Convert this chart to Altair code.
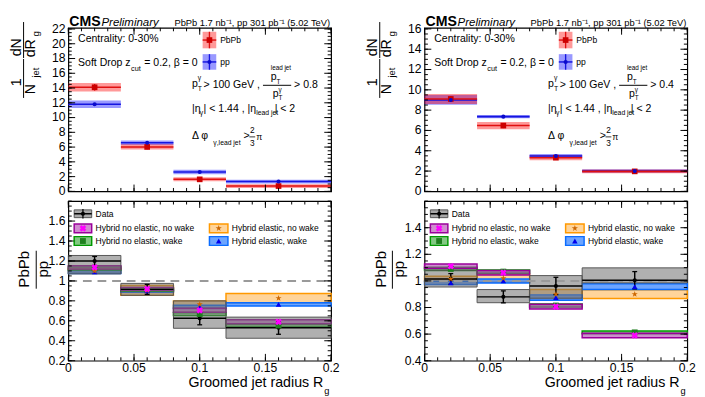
import altair as alt
import pandas as pd

FONT = "Liberation Sans"

# ---------------- binning of groomed jet radius R_g ----------------
bin_lo = [0.0, 0.04, 0.08, 0.12]
bin_hi = [0.04, 0.08, 0.12, 0.20]
bin_mid = [0.02, 0.06, 0.10, 0.16]

# ---------------- top panels: 1/N_jet dN/dR_g ----------------
pbpb_08 = [14.1, 6.02, 1.63, 0.72]
pbpb_08_sys = [0.58, 0.36, 0.27, 0.25]
pbpb_08_stat = [0.45, 0.30, 0.20, 0.25]
pp_08 = [11.8, 6.58, 2.62, 1.33]
pp_08_sys = [0.52, 0.30, 0.30, 0.25]
pp_08_stat = [0.12, 0.10, 0.07, 0.05]

pbpb_04 = [9.10, 6.48, 3.32, 1.97]
pbpb_04_sys = [0.50, 0.35, 0.25, 0.18]
pbpb_04_stat = [0.30, 0.25, 0.15, 0.08]
pp_04 = [9.00, 7.36, 3.48, 2.00]
pp_04_sys = [0.48, 0.17, 0.20, 0.17]
pp_04_stat = [0.10, 0.05, 0.05, 0.03]

# ---------------- bottom panels: PbPb / pp ----------------
ratio_08 = [1.20, 0.915, 0.625, 0.53]
ratio_08_lo = [1.07, 0.855, 0.525, 0.425]
ratio_08_hi = [1.255, 0.975, 0.80, 0.637]
ratio_08_stat = [0.045, 0.05, 0.065, 0.065]

ratio_04 = [1.015, 0.88, 0.962, 1.005]
ratio_04_lo = [0.954, 0.836, 0.87, 0.985]
ratio_04_hi = [1.08, 0.935, 1.04, 1.098]
ratio_04_stat = [0.04, 0.045, 0.065, 0.065]

# Hybrid model: central value and band half-width
noel_nowake_08 = [1.135, 0.92, 0.705, 0.59]
noel_nowake_08_w = [0.017, 0.015, 0.02, 0.02]
noel_wake_08 = [1.125, 0.912, 0.668, 0.553]
noel_wake_08_w = [0.015, 0.015, 0.016, 0.016]
el_nowake_08 = [1.10, 0.905, 0.765, 0.827]
el_nowake_08_w = [0.02, 0.05, 0.035, 0.046]
el_wake_08 = [1.09, 0.90, 0.74, 0.765]
el_wake_08_w = [0.015, 0.015, 0.016, 0.016]

noel_nowake_04 = [1.11, 1.062, 0.806, 0.59]
noel_nowake_04_w = [0.017, 0.017, 0.018, 0.017]
noel_wake_04 = [1.09, 1.07, 0.815, 0.613]
noel_wake_04_w = [0.012, 0.012, 0.012, 0.01]
el_nowake_04 = [1.015, 1.02, 0.90, 0.90]
el_nowake_04_w = [0.02, 0.03, 0.035, 0.033]
el_wake_04 = [0.985, 1.0, 0.875, 0.957]
el_wake_04_w = [0.012, 0.015, 0.02, 0.022]

# ---------------- tick values / labels ----------------
x_major = [0, 0.05, 0.1, 0.15, 0.2]
x_minor = [round(0.01 * i, 2) for i in range(21)]
y08_major = [0, 2, 4, 6, 8, 10, 12, 14, 16, 18, 20, 22]
y08_minor = [0.5 * i for i in range(45)]
y04_major = [0, 2, 4, 6, 8, 10, 12, 14, 16]
y04_minor = [0.5 * i for i in range(33)]
r08_major = [0.2, 0.4, 0.6, 0.8, 1, 1.2, 1.4, 1.6]
r08_minor = [round(0.2 + 0.05 * i, 2) for i in range(33)]
r04_major = [0.4, 0.6, 0.8, 1, 1.2, 1.4]
r04_minor = [round(0.4 + 0.05 * i, 2) for i in range(25)]

W = 270
H_TOP = 168
H_BOT = 164
STAR = "M0,-1L0.225,-0.31L0.95,-0.31L0.364,0.118L0.588,0.809L0,0.382L-0.588,0.809L-0.364,0.118L-0.95,-0.31L-0.225,-0.31Z"
ONE = pd.DataFrame({"k": [0]})


def T(s, x, y, size=10.8, align="left", baseline="middle", angle=0,
      weight="normal", style="normal", color="black"):
    return alt.Chart(ONE).mark_text(
        align=align, baseline=baseline, fontSize=size, angle=angle,
        fontWeight=weight, fontStyle=style, font=FONT, color=color
    ).encode(x=alt.value(x), y=alt.value(y), text=alt.value(s))


def R(x1, x2, y1, y2, fill, op=1.0, stroke=None, sw=1.0):
    kw = dict(fill=fill, fillOpacity=op)
    if stroke:
        kw.update(stroke=stroke, strokeWidth=sw)
    return alt.Chart(ONE).mark_rect(**kw).encode(
        x=alt.value(x1), x2=alt.value(x2), y=alt.value(y1), y2=alt.value(y2))


def L(x1, x2, y1, y2, color="black", sw=1.0):
    return alt.Chart(ONE).mark_rule(color=color, strokeWidth=sw).encode(
        x=alt.value(x1), x2=alt.value(x2), y=alt.value(y1), y2=alt.value(y2))


def P(x, y, shape, color, size, angle=0):
    return alt.Chart(ONE).mark_point(
        shape=shape, filled=True, color=color, size=size, opacity=1, angle=angle
    ).encode(x=alt.value(x), y=alt.value(y))


def X(f, xs):
    return alt.X(f, scale=xs, axis=None)


def Y(f, ys):
    return alt.Y(f, scale=ys, axis=None)


def label_layers(xs, ys, H, ymaj, xlab):
    out = []
    ydf = pd.DataFrame({"t": ymaj, "s": ["%g" % v for v in ymaj]})
    out.append(alt.Chart(ydf).mark_text(align="right", baseline="middle", fontSize=12.5, font=FONT,
                                        color="black").encode(
        y=Y("t:Q", ys), x=alt.value(-3), text="s:N"))
    if xlab:
        xdf = pd.DataFrame({"t": x_major, "s": ["%g" % v for v in x_major]})
        out.append(alt.Chart(xdf).mark_text(align="center", baseline="middle", fontSize=12.5, font=FONT,
                                            color="black").encode(
            x=X("t:Q", xs), y=alt.value(H + 8), text="s:N"))
    return out


def tick_layers(xs, ys, H, ymaj, ymin):
    out = []
    for vals, ln in ((x_major, 7), (x_minor, 3.5)):
        c = alt.Chart(pd.DataFrame({"t": vals}))
        out.append(c.mark_rule(color="black", strokeWidth=1).encode(
            x=X("t:Q", xs), y=alt.value(H), y2=alt.value(H - ln)))
        out.append(c.mark_rule(color="black", strokeWidth=1).encode(
            x=X("t:Q", xs), y=alt.value(0), y2=alt.value(ln)))
    for vals, ln in ((ymaj, 7), (ymin, 3.5)):
        c = alt.Chart(pd.DataFrame({"t": vals}))
        out.append(c.mark_rule(color="black", strokeWidth=1).encode(
            y=Y("t:Q", ys), x=alt.value(0), x2=alt.value(ln)))
        out.append(c.mark_rule(color="black", strokeWidth=1).encode(
            y=Y("t:Q", ys), x=alt.value(W), x2=alt.value(W - ln)))
    return out


def series_df(v, e1, e2, s1, s2):
    return pd.DataFrame({"lo": bin_lo, "hi": bin_hi, "mid": bin_mid, "v": v,
                         "e1": e1, "e2": e2, "b1": s1, "b2": s2})


def pm(v, w, sign):
    return [a + sign * b for a, b in zip(v, w)]


# ---------------- top panel ----------------
def top_panel(pb, pb_sys, pb_stat, pp, pp_sys, pp_stat, ymax, ymaj, ymin, cut):
    xs = alt.Scale(domain=[0, 0.2], nice=False, zero=False)
    ys = alt.Scale(domain=[0, ymax], nice=False, zero=False)
    dpb = series_df(pb, pm(pb, pb_stat, -1), pm(pb, pb_stat, 1), pm(pb, pb_sys, -1), pm(pb, pb_sys, 1))
    dpp = series_df(pp, pm(pp, pp_stat, -1), pm(pp, pp_stat, 1), pm(pp, pp_sys, -1), pm(pp, pp_sys, 1))
    RED_F, RED_L, RED_M = "#ff0000", "#e01010", "#cc0000"
    BLU_F, BLU_L, BLU_M = "#0000ff", "#1515e0", "#0a0acc"
    layers = []
    for d, f in ((dpp, BLU_F), (dpb, RED_F)):
        layers.append(alt.Chart(d).mark_rect(fill=f, fillOpacity=0.4).encode(
            x=X("lo:Q", xs), x2="hi:Q", y=Y("b1:Q", ys), y2="b2:Q"))
    for d, c in ((dpp, BLU_L), (dpb, RED_L)):
        layers.append(alt.Chart(d).mark_rule(color=c, strokeWidth=1.6).encode(
            x=X("lo:Q", xs), x2="hi:Q", y=Y("v:Q", ys)))
        layers.append(alt.Chart(d).mark_rule(color=c, strokeWidth=1.4).encode(
            x=X("mid:Q", xs), y=Y("e1:Q", ys), y2="e2:Q"))
    layers.append(alt.Chart(dpb).mark_point(shape="square", filled=True, color=RED_M, size=34, opacity=1).encode(
        x=X("mid:Q", xs), y=Y("v:Q", ys)))
    layers.append(alt.Chart(dpp).mark_point(shape="circle", filled=True, color=BLU_M, size=18, opacity=1).encode(
        x=X("mid:Q", xs), y=Y("v:Q", ys)))
    layers += tick_layers(xs, ys, H_TOP, ymaj, ymin)
    layers += label_layers(xs, ys, H_TOP, ymaj, False)

    # legend
    layers += [
        R(138, 152, 4, 21, RED_F, 0.4), L(138, 152, 12.5, 12.5, RED_L, 1.5), L(145, 145, 4, 21, RED_L, 1.4),
        P(145, 12.5, "square", RED_M, 34), T("PbPb", 156, 12.5, 8.8),
        R(138, 152, 27, 43, BLU_F, 0.4), L(138, 152, 35, 35, BLU_L, 1.5), L(145, 145, 27, 43, BLU_L, 1.4),
        P(145, 35, "circle", BLU_M, 18), T("pp", 156, 35, 8.8),
    ]
    # header
    layers += [
        T("CMS", 1, -2, 14.5, baseline="alphabetic", weight="bold"),
        T("Preliminary", 34, -2, 11.8, baseline="alphabetic", style="italic"),
        T("PbPb 1.7 nb\u207b\u00b9, pp 301 pb\u207b\u00b9 (5.02 TeV)", 269, -2, 9.6,
          align="right", baseline="alphabetic"),
    ]
    # annotations
    layers += [
        T("Centrality: 0-30%", 10, 11),
        T("Soft Drop z", 10, 36), T("cut", 64.5, 42.5, 7.5), T("= 0.2, \u03b2 = 0", 78, 36),
        T("p", 127, 58), T("T", 133, 63, 7), T("\u03b3", 133, 52, 7),
        T("> 100 GeV ,", 139, 59),
        T("p", 208, 51), T("T", 214, 55.5, 6.5), T("lead jet", 208, 41.5, 6.5),
        L(200, 229, 59, 59, "black", 1),
        T("p", 210, 68), T("T", 216, 72.5, 6.5), T("\u03b3", 216, 63.5, 6.5),
        T("> " + cut, 232, 59),
        T("|\u03b7", 127, 83), T("\u03b3", 135, 88, 7), T("| < 1.44 , |\u03b7", 139, 83),
        T("lead jet", 193, 88, 7), T("| < 2", 212, 83),
        T("\u0394 \u03c6", 127, 111), T("\u03b3,lead jet", 149, 118.5, 7), T(">", 180, 111),
        T("2", 189, 105.5, 8.5, align="center"), L(186, 192, 112, 112, "black", 0.8),
        T("3", 189, 118.5, 8.5, align="center"), T("\u03c0", 193, 112, 9),
    ]
    # y title
    layers += [
        T("1", -53, 56, 14.5, align="center", angle=270),
        L(-46, -46, 32, 72, "black", 1),
        T("N", -38, 63, 14.5, align="center", angle=270),
        T("jet", -33, 46, 9.5, align="center", angle=270),
        T("dN", -53, 20, 14.5, align="center", angle=270),
        L(-46, -46, -6, 31, "black", 1),
        T("dR", -38, 21, 14.5, align="center", angle=270),
        T("g", -33, 6, 10, align="center", angle=270),
    ]
    return alt.layer(*layers).properties(width=W, height=H_TOP)


# ---------------- bottom (ratio) panel ----------------
MODEL_STYLE = {
    "el_nowake": dict(fill="#ffa020", op=0.45, stroke="#ff9900", shape=STAR, mc="#cc6600", size=45, angle=0),
    "el_wake": dict(fill="#2f7fff", op=0.7, stroke="#0a6cff", shape="triangle-up", mc="#0000ee", size=32, angle=0),
    "noel_wake": dict(fill="#2fa52f", op=0.6, stroke="#009900", shape="square", mc="#1f7f1f", size=36, angle=0),
    "noel_nowake": dict(fill="#b040b0", op=0.6, stroke="#990099", shape="cross", mc="#ff00ff", size=48, angle=45),
}


def bot_panel(r, r_lo, r_hi, r_stat, models, ymin_, ymax_, ymaj, yminor):
    xs = alt.Scale(domain=[0, 0.2], nice=False, zero=False)
    ys = alt.Scale(domain=[ymin_, ymax_], nice=False, zero=False)
    layers = []
    mdfs = {}
    for key in ("el_nowake", "el_wake", "noel_wake", "noel_nowake"):
        v, w = models[key]
        d = series_df(v, v, v, pm(v, w, -1), pm(v, w, 1))
        mdfs[key] = d
        st = MODEL_STYLE[key]
        layers.append(alt.Chart(d).mark_rect(fill=st["fill"], fillOpacity=st["op"], stroke=st["stroke"],
                                             strokeWidth=1.5).encode(
            x=X("lo:Q", xs), x2="hi:Q", y=Y("b1:Q", ys), y2="b2:Q"))
    dd = series_df(r, pm(r, r_stat, -1), pm(r, r_stat, 1), r_lo, r_hi)
    layers.append(alt.Chart(dd).mark_rect(fill="#707070", fillOpacity=0.55, stroke="#555555",
                                          strokeWidth=1).encode(
        x=X("lo:Q", xs), x2="hi:Q", y=Y("b1:Q", ys), y2="b2:Q"))
    layers.append(alt.Chart(pd.DataFrame({"v": [1.0]})).mark_rule(
        color="#9a9a9a", strokeWidth=2, strokeDash=[9, 6]).encode(
        y=Y("v:Q", ys), x=alt.value(0), x2=alt.value(W)))
    layers.append(alt.Chart(dd).mark_rule(color="black", strokeWidth=1.5).encode(
        x=X("lo:Q", xs), x2="hi:Q", y=Y("v:Q", ys)))
    layers.append(alt.Chart(dd).mark_rule(color="black", strokeWidth=1.5).encode(
        x=X("mid:Q", xs), y=Y("e1:Q", ys), y2="e2:Q"))
    for f in ("e1:Q", "e2:Q"):
        layers.append(alt.Chart(dd).mark_tick(orient="horizontal", size=5, thickness=1.3, color="black",
                                              opacity=1).encode(
            x=X("mid:Q", xs), y=Y(f, ys)))
    layers.append(alt.Chart(dd).mark_point(shape="circle", filled=True, color="black", size=18,
                                           opacity=1).encode(x=X("mid:Q", xs), y=Y("v:Q", ys)))
    for key in ("noel_wake", "el_wake", "el_nowake", "noel_nowake"):
        st = MODEL_STYLE[key]
        layers.append(alt.Chart(mdfs[key]).mark_point(shape=st["shape"], filled=True, color=st["mc"],
                                                     size=st["size"], angle=st["angle"], opacity=1).encode(
            x=X("mid:Q", xs), y=Y("v:Q", ys)))
    layers += tick_layers(xs, ys, H_BOT, ymaj, yminor)
    layers += label_layers(xs, ys, H_BOT, ymaj, True)

    # legend
    def box(x1, x2, y1, y2, key, label, tx):
        st = MODEL_STYLE[key]
        cx, cy = (x1 + x2) / 2, (y1 + y2) / 2
        return [R(x1, x2, y1, y2, st["fill"], st["op"], st["stroke"], 1.5),
                P(cx, cy, st["shape"], st["mc"], st["size"], st["angle"]),
                T(label, tx, cy, 8.7)]
    layers += [R(6, 24, 9, 17, "#707070", 0.6, "#555555", 1), L(6, 24, 13, 13, "black", 1.5),
               L(15, 15, 8, 18, "black", 1.3), P(15, 13, "circle", "black", 18), T("Data", 28, 13, 8.7)]
    layers += box(6, 24, 23.5, 32.5, "noel_nowake", "Hybrid no elastic, no wake", 28)
    layers += box(6, 24, 36.5, 45.5, "noel_wake", "Hybrid no elastic, wake", 28)
    layers += box(145, 164, 23.5, 32.5, "el_nowake", "Hybrid elastic, no wake", 168)
    layers += box(145, 164, 36.5, 45.5, "el_wake", "Hybrid elastic, wake", 168)
    # titles
    layers += [
        T("PbPb", -45, 70, 15.5, align="center", angle=270),
        L(-33, -33, 51, 90, "black", 1),
        T("pp", -26, 70, 15.5, align="center", angle=270),
        T("Groomed jet radius R", 262, H_BOT + 23.5, 14.6, align="right"),
        T("g", 263, H_BOT + 31.5, 9.5),
    ]
    return alt.layer(*layers).properties(width=W, height=H_BOT)


top08 = top_panel(pbpb_08, pbpb_08_sys, pbpb_08_stat, pp_08, pp_08_sys, pp_08_stat,
                  22.15, y08_major, y08_minor, "0.8")
top04 = top_panel(pbpb_04, pbpb_04_sys, pbpb_04_stat, pp_04, pp_04_sys, pp_04_stat,
                  16.1, y04_major, y04_minor, "0.4")
bot08 = bot_panel(ratio_08, ratio_08_lo, ratio_08_hi, ratio_08_stat, {
    "noel_nowake": (noel_nowake_08, noel_nowake_08_w), "noel_wake": (noel_wake_08, noel_wake_08_w),
    "el_nowake": (el_nowake_08, el_nowake_08_w), "el_wake": (el_wake_08, el_wake_08_w)},
    0.2, 1.8, r08_major, r08_minor)
bot04 = bot_panel(ratio_04, ratio_04_lo, ratio_04_hi, ratio_04_stat, {
    "noel_nowake": (noel_nowake_04, noel_nowake_04_w), "noel_wake": (noel_wake_04, noel_wake_04_w),
    "el_nowake": (el_nowake_04, el_nowake_04_w), "el_wake": (el_wake_04, el_wake_04_w)},
    0.4, 1.6, r04_major, r04_minor)

chart = alt.hconcat(
    alt.vconcat(top08, bot08, spacing=0),
    alt.vconcat(top04, bot04, spacing=0),
    spacing=24,
).properties(
    padding={"left": 0, "top": 0, "right": 0, "bottom": 0}, background="white"
).configure_view(stroke="black", strokeWidth=1.2)

chart.save("out.html", embed_options={"renderer": "svg", "actions": False})
